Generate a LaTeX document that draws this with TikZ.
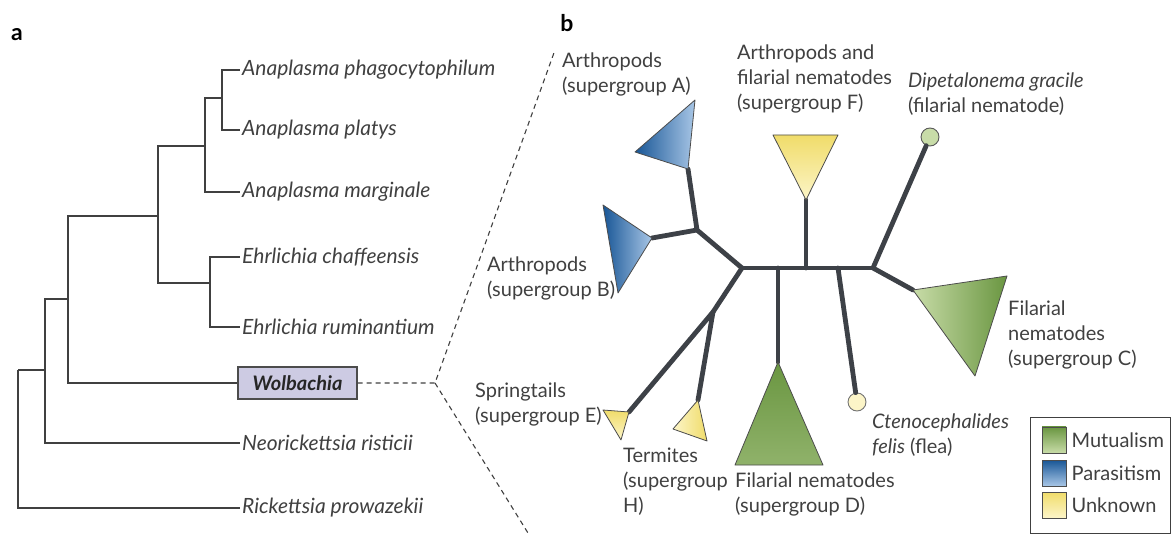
\documentclass[tikz,border=0pt]{standalone}
\usepackage{fontspec}
\setmainfont{Lato}
\usetikzlibrary{positioning}
\definecolor{txt}{HTML}{404040}
\definecolor{branch}{HTML}{3D4147}
\definecolor{wolfill}{HTML}{CDCBE3}
\definecolor{blueD}{HTML}{185696}
\definecolor{blueL}{HTML}{A8C6E6}
\definecolor{greenD}{HTML}{6A9641}
\definecolor{greenL}{HTML}{C8DCA8}
\definecolor{yelD}{HTML}{F0DC6A}
\definecolor{yelL}{HTML}{FCF5C8}

\begin{document}
\begin{tikzpicture}[x=1pt,y=-1pt,
  every node/.style={font=\fontsize{20}{25}\selectfont, text=txt},
  panel/.style={font=\fontsize{23}{23}\selectfont\bfseries, text=black},
  taxon/.style={anchor=west, font=\fontsize{21}{25}\selectfont\itshape, inner sep=2pt},
  grp/.style={anchor=north west, align=left, inner sep=0pt},
  tree/.style={draw=txt, line width=1.3pt},
  arm/.style={draw=branch, line width=4.8pt, line cap=round},
  fan/.style={draw=txt, line width=1.1pt, dash pattern=on 5pt off 4pt},
  clade/.style={draw=black!70, line width=0.8pt, line join=round},
  tip/.style={circle, minimum size=18pt, inner sep=0pt, line width=0.9pt},
  swatch/.style={minimum width=24pt, minimum height=26pt, inner sep=0pt, draw=black!70, line width=0.8pt}]

\useasboundingbox (0,0) rectangle (1171,537);

% panel a
\node[panel] (la) at (17,35) {a};

\node[taxon] (aph) at (240,70) {Anaplasma phagocytophilum};
\node[taxon] (apl) at (240,130) {Anaplasma platys};
\node[taxon] (ama) at (240,192) {Anaplasma marginale};
\node[taxon] (ech) at (240,257) {Ehrlichia chaffeensis};
\node[taxon] (eru) at (240,327) {Ehrlichia ruminantium};
\node[draw=black!70, line width=1.2pt, fill=wolfill, minimum width=119pt, minimum height=32pt,
      font=\fontsize{20}{25}\selectfont\bfseries\itshape, text=black!85] (wol) at (297.5,383) {Wolbachia};
\node[taxon] (nri) at (240,443) {Neorickettsia risticii};
\node[taxon] (rpr) at (240,508) {Rickettsia prowazekii};

\coordinate (nR) at (18,370);
\coordinate (nN) at (45,370);
\coordinate (nW) at (68,299);
\coordinate (nAE) at (158,216);
\coordinate (nA) at (205,146);
\coordinate (nAp) at (222,98);
\coordinate (nE) at (210,283);

\draw[tree] (nR) |- (rpr.west);
\draw[tree] (nR) -- (nN);
\draw[tree] (nN) |- (nri.west);
\draw[tree] (nN) |- (nW);
\draw[tree] (nW) |- (wol.west);
\draw[tree] (nW) |- (nAE);
\draw[tree] (nAE) |- (nA);
\draw[tree] (nAE) |- (nE);
\draw[tree] (nA) |- (nAp);
\draw[tree] (nA) |- (ama.west);
\draw[tree] (nAp) |- (aph.west);
\draw[tree] (nAp) |- (apl.west);
\draw[tree] (nE) |- (ech.west);
\draw[tree] (nE) |- (eru.west);

% zoom lines
\coordinate (fk) at (435,383);
\coordinate (ftop) at (555,50);
\coordinate (fbot) at (528,533);
\draw[fan] (wol.east) -- (fk) -- (ftop);
\draw[fan] (fk) -- (fbot);

% panel b
\node[panel] (lb) at (567,23) {b};

\coordinate (c1) at (742,268);
\coordinate (c2) at (873,268);
\coordinate (cAB) at (697,230);
\coordinate (cEH) at (713,312);
\coordinate (cD) at (778,268);
\coordinate (cF) at (806,268);
\coordinate (cCt) at (838,268);

\coordinate (tA) at (688,169);  \coordinate (tA1) at (635,152);  \coordinate (tA2) at (695,100);
\coordinate (tB) at (652,238);  \coordinate (tB1) at (603,205);  \coordinate (tB2) at (618,293);
\coordinate (tE) at (629,412);  \coordinate (tE1) at (603,410);  \coordinate (tE2) at (621,440);
\coordinate (tH) at (698,400);  \coordinate (tH1) at (673,429);  \coordinate (tH2) at (707,441);
\coordinate (tD) at (778,362);  \coordinate (tD1) at (735,465);  \coordinate (tD2) at (823,465);
\coordinate (tF) at (806,200);  \coordinate (tF1) at (773,135);  \coordinate (tF2) at (838,135);
\coordinate (tC) at (913,290);  \coordinate (tC1) at (1007,276); \coordinate (tC2) at (975,376);

\node[tip, draw=black!65, fill=greenL] (dip) at (930,137) {};
\node[tip, draw=black!55, fill=yelL] (ctf) at (857,402) {};

\draw[arm] (c1) -- (c2);
\draw[arm] (c1) -- (cAB);
\draw[arm] (cAB) -- (tA);
\draw[arm] (cAB) -- (tB);
\draw[arm] (c1) -- (cEH);
\draw[arm] (cEH) -- (tE);
\draw[arm] (cEH) -- (tH);
\draw[arm] (cD) -- (tD);
\draw[arm] (cF) -- (tF);
\draw[arm] (cCt) -- (ctf);
\draw[arm] (c2) -- (dip);
\draw[arm] (c2) -- (tC);

\shadedraw[clade, left color=blueD, middle color=blueD!80!blueL, right color=blueL] (tA) -- (tA1) -- (tA2) -- cycle;
\shadedraw[clade, left color=blueD, middle color=blueD!80!blueL, right color=blueL] (tB) -- (tB1) -- (tB2) -- cycle;
\shadedraw[clade, top color=yelD, bottom color=yelL] (tE) -- (tE1) -- (tE2) -- cycle;
\shadedraw[clade, left color=yelL, right color=yelD] (tH) -- (tH1) -- (tH2) -- cycle;
\shadedraw[clade, top color=greenD, bottom color=greenD!60!greenL] (tD) -- (tD1) -- (tD2) -- cycle;
\shadedraw[clade, top color=yelD, bottom color=yelL] (tF) -- (tF1) -- (tF2) -- cycle;
\shadedraw[clade, left color=greenL, right color=greenD] (tC) -- (tC1) -- (tC2) -- cycle;

\node[grp] (gA) at (562,53) {Arthropods\\(supergroup A)};
\node[grp] (gF) at (737,45) {Arthropods and\\filarial nematodes\\(supergroup F)};
\node[grp] (gDip) at (908,73) {\textit{Dipetalonema gracile}\\(filarial nematode)};
\node[grp] (gB) at (487,257) {Arthropods\\(supergroup B)};
\node[grp] (gE) at (475,383) {Springtails\\(supergroup E)};
\node[grp] (gH) at (623,448) {Termites\\(supergroup\\H)};
\node[grp] (gD) at (735,473) {Filarial nematodes\\(supergroup D)};
\node[grp] (gCt) at (872,414) {\textit{Ctenocephalides}\\\textit{felis} (flea)};
\node[grp] (gC) at (1008,301) {Filarial\\nematodes\\(supergroup C)};

% legend
\draw[draw=txt, line width=1pt] (1030,418) rectangle (1170,533);
\node[swatch, top color=greenD, bottom color=greenL] (sw1) at (1054,440) {};
\node[swatch, top color=blueD, bottom color=blueL] (sw2) at (1054,473) {};
\node[swatch, top color=yelD, bottom color=yelL] (sw3) at (1054,505) {};
\node[right=5pt of sw1, inner sep=0pt] (lm) {Mutualism};
\node[right=5pt of sw2, inner sep=0pt] (lp) {Parasitism};
\node[right=5pt of sw3, inner sep=0pt] (lu) {Unknown};
\end{tikzpicture}
\end{document}
